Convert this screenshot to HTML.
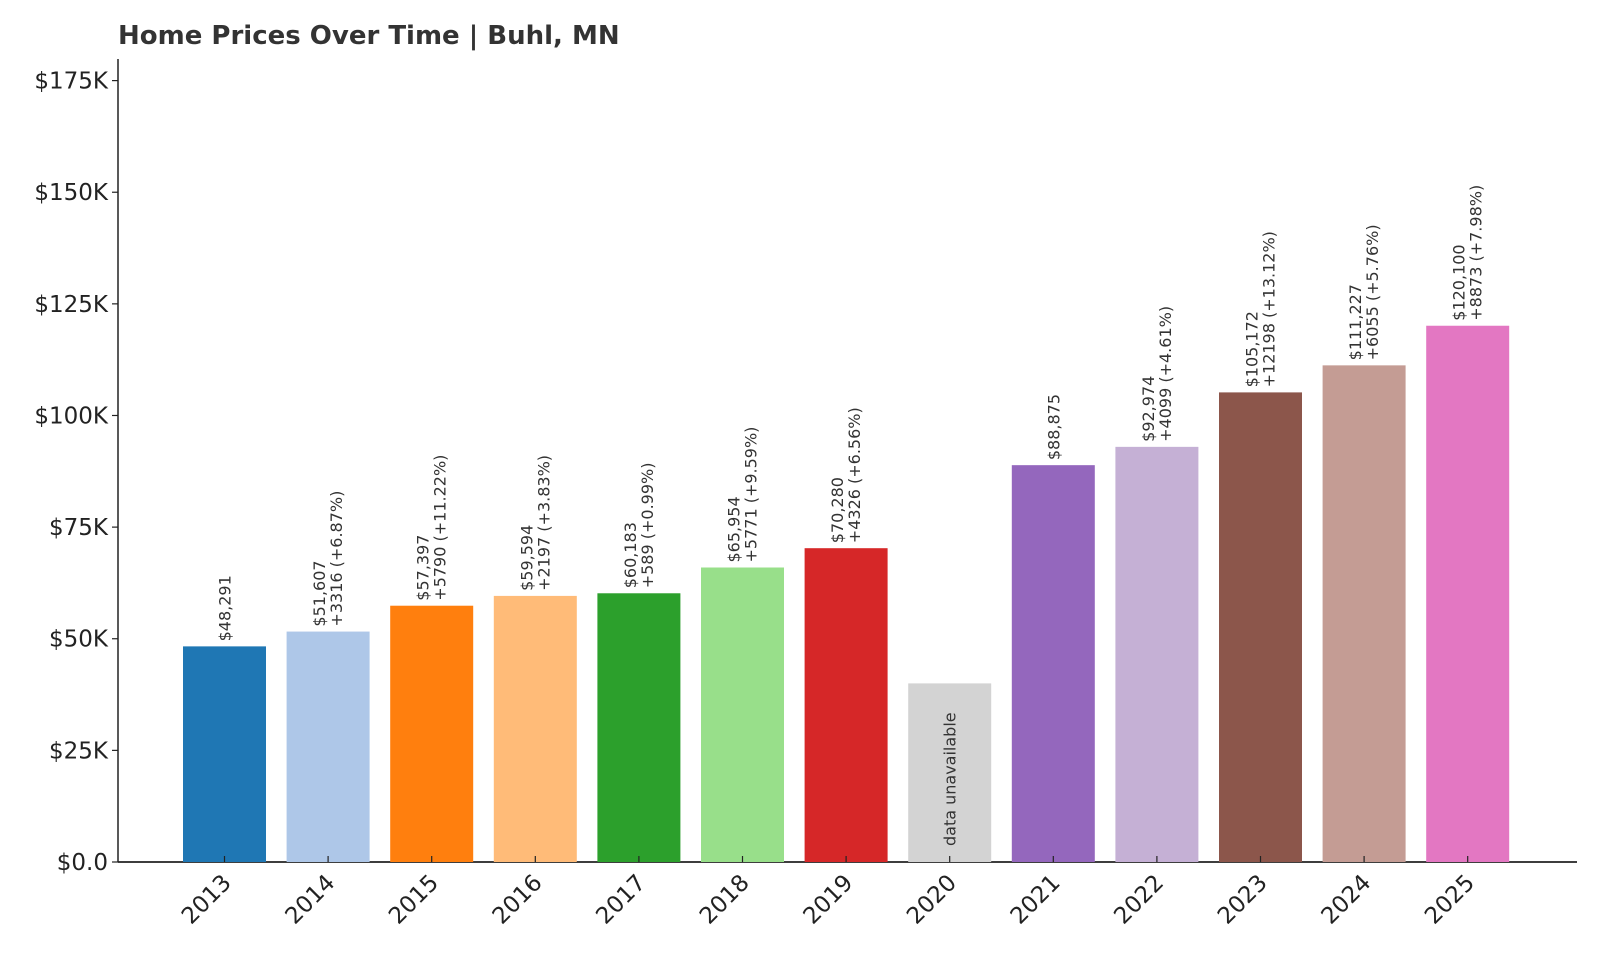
<!DOCTYPE html>
<html><head><meta charset="utf-8"><style>
html,body{margin:0;padding:0;background:#fff;}
svg{display:block;font-family:"DejaVu Sans","Liberation Sans",sans-serif;}
</style></head><body>
<svg id="chart" width="1600" height="960" viewBox="0 0 1600 960">
<text x="118" y="44" font-size="26" font-weight="bold" fill="#333">Home Prices Over Time | Buhl, MN</text>
<g id="axes"></g>
<g id="bars"></g>
</svg>
<script>
const years=["2013","2014","2015","2016","2017","2018","2019","2020","2021","2022","2023","2024","2025"];
const values=[48291,51607,57397,59594,60183,65954,70280,40000,88875,92974,105172,111227,120100];
const available=[true,true,true,true,true,true,true,false,true,true,true,true,true];
const labels=["$48,291","$51,607","$57,397","$59,594","$60,183","$65,954","$70,280","","$88,875","$92,974","$105,172","$111,227","$120,100"];
const changes=["","+3316 (+6.87%)","+5790 (+11.22%)","+2197 (+3.83%)","+589 (+0.99%)","+5771 (+9.59%)","+4326 (+6.56%)","","","+4099 (+4.61%)","+12198 (+13.12%)","+6055 (+5.76%)","+8873 (+7.98%)"];
const colors=["#1f77b4","#aec7e8","#ff7f0e","#ffbb78","#2ca02c","#98df8a","#d62728","#d3d3d3","#9467bd","#c5b0d5","#8c564b","#c49c94","#e377c2"];
const yTicks=[0,25000,50000,75000,100000,125000,150000,175000];
const yTickLabels=["$0.0","$25K","$50K","$75K","$100K","$125K","$150K","$175K"];
const NS="http://www.w3.org/2000/svg";
const y0=862, pxPer=(862-80.6)/175000;
const yS=v=>y0-v*pxPer;
const x0=224.5, step=103.6, bw=83;
const xS=i=>x0+i*step;
function mk(tag,attrs,parent){const e=document.createElementNS(NS,tag);for(const k in attrs)e.setAttribute(k,attrs[k]);parent.appendChild(e);return e;}
const axes=document.getElementById('axes'), bars=document.getElementById('bars');
const ya=mk('line',{x1:118,y1:59,x2:118,y2:y0,stroke:'#222','stroke-width':1.5},axes);


const xa=mk('line',{x1:118,y1:y0,x2:1577,y2:y0,stroke:'#222','stroke-width':1.8},axes);


yTicks.forEach((t,i)=>{
 const y=yS(t);
 mk('line',{x1:112,y1:y,x2:118,y2:y,stroke:'#222','stroke-width':1.2},axes);
 const tx=mk('text',{x:108,y:y+8,'text-anchor':'end','font-size':23,fill:'#222'},axes);
 tx.textContent=yTickLabels[i];
 
 
});
years.forEach((yr,i)=>{
 const cx=xS(i), top=yS(values[i]);
 const r=mk('rect',{x:cx-bw/2,y:top,width:bw,height:y0-top,fill:colors[i]},bars);
 
 
 mk('line',{x1:cx,y1:y0,x2:cx,y2:y0-6,stroke:'#222','stroke-width':1.2},bars);
 const lt=mk('text',{transform:`translate(${cx+8},${y0+22}) rotate(-45)`,'text-anchor':'end','font-size':23,fill:'#222'},bars);
 lt.textContent=yr;
 
 
 if(!available[i]){
  const t=mk('text',{transform:`translate(${cx+6},${y0-16}) rotate(-90)`,'font-size':16,fill:'#333'},bars);
  t.textContent='data unavailable';
  
  
  return;
 }
 const g=mk('text',{transform:`translate(${cx},${top-5}) rotate(-90)`,'font-size':16,fill:'#333'},bars);
 
 
 if(changes[i]){
  mk('tspan',{x:0,y:-3},g).textContent=labels[i];
  mk('tspan',{x:0,y:14},g).textContent=changes[i];
 } else {
  mk('tspan',{x:0,y:6},g).textContent=labels[i];
 }
});
</script>
</body></html>
